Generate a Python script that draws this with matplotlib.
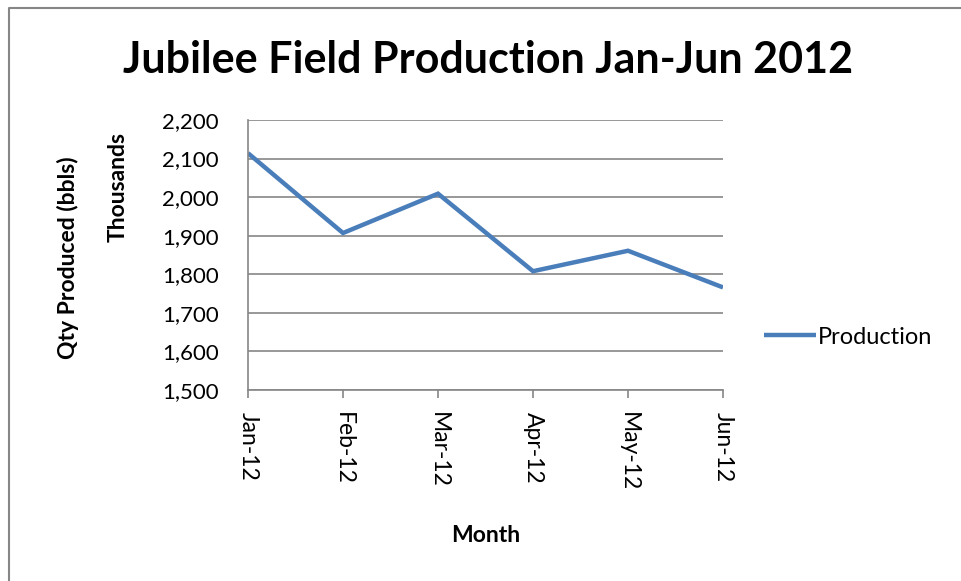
import matplotlib
matplotlib.use("Agg")
import matplotlib.pyplot as plt
from matplotlib.lines import Line2D
from matplotlib.ticker import FuncFormatter

months = ["Jan-12", "Feb-12", "Mar-12", "Apr-12", "May-12", "Jun-12"]
production = [2114, 1907, 2009, 1808, 1861, 1766]
series_name = "Production"

plt.rcParams['font.family'] = ['Lato', 'DejaVu Sans']

W, H = 962, 581
fig = plt.figure(figsize=(W/100, H/100), dpi=100)

def fx(px): return px / W
def fy(py): return 1 - py / H

# outer chart border (only top and left visible in the crop)
fig.lines.append(Line2D([fx(8.5), fx(8.5), fx(1000)], [fy(600), fy(8), fy(8)],
                        transform=fig.transFigure, color='#868686', linewidth=1.5))

ax = fig.add_axes([fx(248), fy(390), fx(723) - fx(248), fy(120) - fy(390)])
x = list(range(len(months)))
line, = ax.plot(x, production, color='#4A7EBB', linewidth=3.2,
                solid_joinstyle='miter', solid_capstyle='butt', label=series_name)
ax.set_xlim(0, len(months) - 1)
ax.set_ylim(1500, 2200)
ax.set_yticks(range(1500, 2201, 100))
ax.yaxis.set_major_formatter(FuncFormatter(lambda v, p: f"{int(v):,}"))
ax.set_xticks(x)
ax.set_xticklabels(months, rotation=270, fontsize=16.5)
ax.tick_params(axis='y', labelsize=16, length=0, pad=21)
ax.tick_params(axis='x', length=6, color='#868686', width=1.2, pad=10, direction='out')
ax.grid(axis='y', color='#868686', linewidth=1.2)
ax.set_axisbelow(True)
for s in ['top', 'right']:
    ax.spines[s].set_visible(False)
for s in ['left', 'bottom']:
    ax.spines[s].set_color('#868686')
    ax.spines[s].set_linewidth(1.2)

fig.text(fx(488), fy(60), "Jubilee Field Production Jan-Jun 2012", fontsize=31,
         fontweight='bold', ha='center', va='center')
fig.text(fx(68), fy(258), "Qty Produced (bbls)", rotation=90, fontsize=16.5,
         fontweight='bold', ha='center', va='center')
fig.text(fx(118), fy(187), "Thousands", rotation=90, fontsize=16.5,
         fontweight='bold', ha='center', va='center')
fig.text(fx(486), fy(535), "Month", fontsize=16.5, fontweight='bold',
         ha='center', va='center')

# legend
fig.legend(handles=[line], loc='center left', bbox_to_anchor=(fx(764), fy(337)),
           frameon=False, fontsize=17, handlelength=2.2, handletextpad=0.1,
           borderpad=0, borderaxespad=0)

fig.savefig("out.png", dpi=100)
